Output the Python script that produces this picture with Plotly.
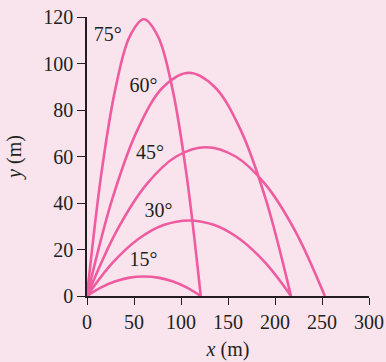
import plotly.graph_objects as go

# Trajectory points (x in m, y in m)
x15 = [0, 15.1, 30.3, 45.4, 60.5, 75.6, 90.8, 105.9, 121]
y15 = [0, 3.7, 6.3, 7.9, 8.4, 7.9, 6.3, 3.7, 0]
x30 = [0, 27.1, 54.3, 81.4, 108.5, 135.6, 162.8, 189.9, 217]
y30 = [0, 14.2, 24.4, 30.5, 32.5, 30.5, 24.4, 14.2, 0]
x45 = [0, 31.6, 63.3, 94.9, 126.5, 158.1, 189.8, 221.4, 253]
y45 = [0, 28, 48, 60, 64, 60, 48, 28, 0]
x60 = [0, 27.1, 54.3, 81.4, 108.5, 135.6, 162.8, 189.9, 217]
y60 = [0, 42, 72, 90, 96, 90, 72, 42, 0]
x75 = [0, 15.1, 30.3, 45.4, 60.5, 75.6, 90.8, 105.9, 121]
y75 = [0, 52.1, 89.3, 111.6, 119, 111.6, 89.3, 52.1, 0]

labels = ["75°", "60°", "45°", "30°", "15°"]
label_x = [22, 60, 67, 76, 60]
label_y = [112, 90, 61, 36, 15]

xticks = [0, 50, 100, 150, 200, 250, 300]
yticks = [0, 20, 40, 60, 80, 100, 120]

LINE = "#ee5c9f"
BG = "#f9e4ee"
INK = "#231f20"
FONT = "Liberation Serif"
FS = 20

fig = go.Figure()
for xs, ys in [(x15, y15), (x30, y30), (x45, y45), (x60, y60), (x75, y75)]:
    fig.add_trace(go.Scatter(x=xs, y=ys, mode="lines",
                             line=dict(color=LINE, width=2.6, shape="spline", smoothing=1.0),
                             cliponaxis=False, showlegend=False, hoverinfo="skip"))

fig.add_trace(go.Scatter(x=label_x, y=label_y, mode="text", text=labels,
                         textfont=dict(family=FONT, size=FS, color=INK),
                         showlegend=False, hoverinfo="skip", cliponaxis=False))

fig.update_layout(
    width=386, height=362,
    margin=dict(l=87, r=17, t=17, b=66),
    paper_bgcolor=BG, plot_bgcolor=BG,
    font=dict(family=FONT, color=INK, size=FS),
)
fig.update_xaxes(range=[0, 300], tickvals=xticks, ticks="outside", ticklen=7,
                 tickwidth=1.3, tickcolor=INK, showline=True, linecolor=INK, linewidth=1.5,
                 showgrid=False, zeroline=False, automargin=False,
                 title=dict(text="<i>x</i> (m)", standoff=10, font=dict(size=FS)),
                 tickfont=dict(size=FS))
fig.update_yaxes(range=[0, 120], tickvals=yticks, ticks="outside", ticklen=8,
                 tickwidth=1.3, tickcolor=INK, showline=True, linecolor=INK, linewidth=1.5,
                 showgrid=False, zeroline=False, automargin=False,
                 title=dict(text="<i>y</i> (m)", standoff=16, font=dict(size=FS)),
                 tickfont=dict(size=FS))

fig.write_html(
    "out.html",
    config={"displayModeBar": False},
    post_script="document.body.style.margin='0';document.body.style.background='%s';"
                "document.body.style.overflow='hidden';" % BG,
)
